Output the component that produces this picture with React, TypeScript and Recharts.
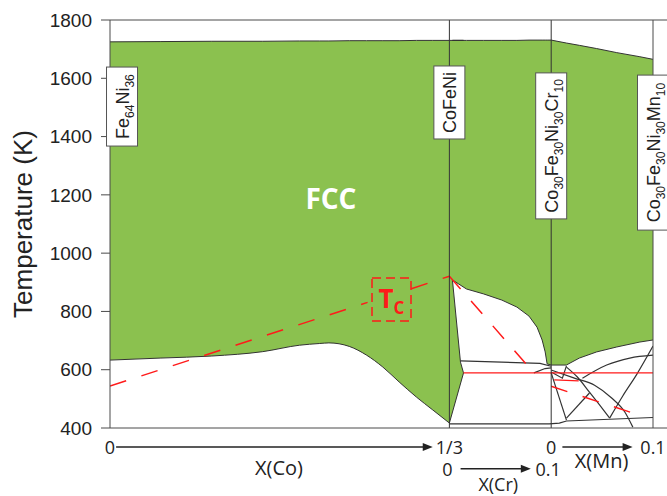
import React from 'react';
import { ComposedChart, Area, Line, XAxis, YAxis, ReferenceLine, ReferenceDot } from 'recharts';

type Pt = [number, number];
type Band = [number, number, number];

// the three composition sections share one x axis
const CO_END = 1 / 3;
const CR_END = 1 / 3 + 0.1;
const MN_END = 1 / 3 + 0.2;

const tempTicks = [400, 600, 800, 1000, 1200, 1400, 1600, 1800];
const compTicks = [0, 0.1, 0.2, 0.3, CO_END, CR_END, MN_END];

// FCC field: [x, lower boundary (K), solidus (K)]
const coFcc: Band[] = [
  [0, 633, 1725], [0.05, 640, 1726], [0.1, 647, 1727], [0.15, 662, 1727],
  [0.186, 684, 1728], [0.206, 690, 1728], [0.215, 692, 1728], [0.235, 680, 1729],
  [0.252, 650, 1729], [0.268, 609, 1729], [0.284, 558, 1729], [0.301, 506, 1730],
  [0.317, 462, 1730], [1 / 3, 417, 1730],
];
const crFcc: Band[] = [
  [0, 417, 1730], [0.0139, 589, 1730], [0.0109, 626, 1730], [0.003, 908, 1730],
  [0.0168, 877, 1730], [0.0337, 860, 1730], [0.0515, 839, 1730], [0.0663, 815, 1730],
  [0.0782, 784, 1731], [0.0861, 746, 1731], [0.0911, 702, 1731], [0.0941, 661, 1731],
  [0.096, 620, 1731], [0.1, 616, 1731],
];
const mnFcc: Band[] = [
  [0, 616, 1731], [0.0149, 616, 1721], [0.0277, 640, 1713], [0.0446, 661, 1702],
  [0.0644, 678, 1688], [0.0871, 695, 1674], [0.1, 702, 1665],
];

// other phase boundaries (black)
const crTie: Pt[] = [[0.0109, 630], [0.089, 622], [0.1, 612]];
const crJunction: Pt[] = [[0.083, 589], [0.094, 604], [0.1, 606]];
const crBottom: Pt[] = [[0, 414], [0.098, 414]];
const mnBottom: Pt[] = [[0.008, 417], [0.015, 424], [0.1, 436]];
const mnNotch: Pt[] = [[0, 592], [0.011, 571], [0.015, 613]];
const mnLegA: Pt[] = [[0, 589], [0.015, 427]];
const mnLegB: Pt[] = [[0.0376, 520], [0.015, 434]];
const mnArcA: Pt[] = [[0.015, 609], [0.0257, 575], [0.0376, 523], [0.0475, 479], [0.0574, 434]];
const mnArcB: Pt[] = [[0, 599], [0.0228, 571], [0.0426, 547], [0.0594, 503], [0.0723, 455], [0.0802, 403]];
const mnArcC: Pt[] = [[0.0307, 571], [0.0545, 616], [0.0772, 640], [0.1, 650]];
const mnArcD: Pt[] = [[0.0574, 434], [0.0703, 510], [0.0842, 585], [0.1, 681]];

// Curie temperature (red)
const coTcA: Pt[] = [[0, 544], [0.253, 831]];
const coTcB: Pt[] = [[0.296, 878], [1 / 3, 921]];
const crTc: Pt[] = [[0, 921], [0.083, 589]];
const mnTc: Pt[] = [[0, 543], [0.092, 438]];
const mnTcShort: Pt[] = [[0.003, 565], [0.027, 562]];
const crCurieFlat: Pt[] = [[0.0139, 589], [0.1, 589]];
const mnCurieFlat: Pt[] = [[0, 589], [0.1, 589]];

const alloyFeNi = [['Fe', '64'], ['Ni', '36']];
const alloyCoFeNi = [['CoFeNi', '']];
const alloyCr = [['Co', '30'], ['Fe', '30'], ['Ni', '30'], ['Cr', '10']];
const alloyMn = [['Co', '30'], ['Fe', '30'], ['Ni', '30'], ['Mn', '10']];

const axisNames = ['X(Co)', 'X(Cr)', 'X(Mn)'];
const axisEnds = [['0', '1/3'], ['0', '0.1'], ['0', '0.1']];

const rows = (pts: Pt[], start = 0) => pts.map(([x, t]) => ({ pos: start + x, t }));
const bandRows = (pts: Band[], start = 0) => pts.map(([x, lo, hi]) => ({ pos: start + x, band: [lo, hi] }));

const GREEN = '#8bc14f';
const AXIS = '#4a4a4a';
const INK = '#222';
const RED = '#ff1a1a';

const straightLines = [
  rows(crTie, CO_END),
  rows(crJunction, CO_END),
  [...rows(crBottom, CO_END), ...rows(mnBottom, CR_END)],
  rows(mnNotch, CR_END),
  rows(mnLegA, CR_END),
  rows(mnLegB, CR_END),
];
const curvedLines = [rows(mnArcA, CR_END), rows(mnArcB, CR_END), rows(mnArcC, CR_END), rows(mnArcD, CR_END)];
const dashedRed = [rows(coTcA), rows(coTcB), rows(crTc, CO_END), rows(mnTc, CR_END)];
const solidRed = [rows(mnTcShort, CR_END), [...rows(crCurieFlat, CO_END), ...rows(mnCurieFlat, CR_END)]];

const Arrow = (p: any) => (
  <g>
    <line x1={p.x1} y1={p.y1} x2={p.x2 - 6} y2={p.y2} stroke={INK} strokeWidth={1.5} />
    <polygon points={`${p.x2},${p.y2} ${p.x2 - 10},${p.y2 - 4} ${p.x2 - 10},${p.y2 + 4}`} fill={INK} />
  </g>
);

const Caption = (text: string, size = 20) => (p: any) => (
  <text x={p.cx} y={p.cy} textAnchor="middle" dominantBaseline="central" fontSize={size}
    fontFamily="'Open Sans', sans-serif" fill={INK}>{text}</text>
);

const AlloyBox = (parts: string[][], h: number) => (p: any) => (
  <g>
    <rect x={p.cx - 15.5} y={p.cy - h / 2} width={31} height={h} fill="#fff" stroke="#555" strokeWidth={1} />
    <text transform={`translate(${p.cx},${p.cy}) rotate(-90)`} x={0} y={6.5} textAnchor="middle"
      fontSize={18} fontFamily="'Liberation Sans', Arial, sans-serif" fill={INK}>
      {parts.map(([el, n], i) => (
        <React.Fragment key={i}>
          <tspan dy={i > 0 && parts[i - 1][1] ? -5 : 0}>{el}</tspan>
          {n ? <tspan fontSize={12} dy={5}>{n}</tspan> : null}
        </React.Fragment>
      ))}
    </text>
  </g>
);

const TcBox = (p: any) => (
  <g>
    <rect x={p.cx - 19.5} y={p.cy - 21.5} width={39} height={43} fill="none" stroke={RED}
      strokeWidth={1.5} strokeDasharray="9 5" />
    <text x={p.cx} y={p.cy + 8.5} textAnchor="middle" fill={RED} fontFamily="'Open Sans', sans-serif" fontWeight={700}>
      <tspan fontSize={26}>T</tspan>
      <tspan fontSize={17} dy={6}>C</tspan>
    </text>
  </g>
);

const FccLabel = (p: any) => (
  <text x={p.cx} y={p.cy + 10} textAnchor="middle" fill="#fff" fontSize={28} fontWeight={700}
    fontFamily="'Open Sans', sans-serif">FCC</text>
);

const YTitle = (props: any) => {
  const vb = props.viewBox || { x: 0, y: 20, width: 110, height: 408 };
  const cx = vb.x + 23;
  const cy = vb.y + vb.height / 2;
  return (
    <text x={cx} y={cy} transform={`rotate(-90, ${cx}, ${cy})`} textAnchor="middle" dominantBaseline="central"
      fontSize={26} fontFamily="'Liberation Sans', Arial, sans-serif" fill={INK}>Temperature (K)</text>
  );
};

export default function App() {
  return (
    <div style={{ position: 'absolute', left: 0, top: 0, background: '#fff' }}>
      <ComposedChart width={667} height={496} margin={{ top: 0, right: 0, bottom: 38, left: 0 }}>
        <XAxis dataKey="pos" type="number" domain={[0, MN_END]} ticks={compTicks} allowDataOverflow
          height={30} tick={false} tickSize={8} stroke={AXIS} />
        <XAxis xAxisId="top" orientation="top" dataKey="pos" type="number" domain={[0, MN_END]} ticks={compTicks}
          allowDataOverflow height={20} tick={false} tickSize={8} stroke={AXIS} />
        <YAxis type="number" domain={[400, 1800]} ticks={tempTicks} allowDataOverflow width={110}
          tickSize={9} tickMargin={9} stroke={AXIS}
          tick={{ fontSize: 19, fill: INK, fontFamily: "'Liberation Sans', Arial, sans-serif" }}
          label={<YTitle />} />
        <YAxis yAxisId="right" orientation="right" type="number" domain={[400, 1800]} ticks={tempTicks}
          allowDataOverflow width={14} tick={false} tickSize={8} stroke={AXIS} />

        <Area data={bandRows(coFcc)} dataKey="band" type="monotone" fill={GREEN} fillOpacity={1}
          stroke="#333" strokeWidth={1} dot={false} activeDot={false} isAnimationActive={false} />
        <Area data={[...bandRows(crFcc, CO_END), ...bandRows(mnFcc, CR_END)]} dataKey="band" type="linear"
          fill={GREEN} fillOpacity={1} stroke="#333" strokeWidth={1} dot={false} activeDot={false}
          isAnimationActive={false} />

        {straightLines.map((d, i) => (
          <Line key={`s${i}`} data={d} dataKey="t" type="linear" stroke="#333" strokeWidth={1.2}
            dot={false} activeDot={false} isAnimationActive={false} />
        ))}
        {curvedLines.map((d, i) => (
          <Line key={`c${i}`} data={d} dataKey="t" type="monotone" stroke="#333" strokeWidth={1.2}
            dot={false} activeDot={false} isAnimationActive={false} />
        ))}
        {solidRed.map((d, i) => (
          <Line key={`r${i}`} data={d} dataKey="t" type="linear" stroke={RED} strokeWidth={1.2}
            dot={false} activeDot={false} isAnimationActive={false} />
        ))}
        {dashedRed.map((d, i) => (
          <Line key={`d${i}`} data={d} dataKey="t" type="linear" stroke={RED} strokeWidth={1.5}
            strokeDasharray="17 16" dot={false} activeDot={false} isAnimationActive={false} />
        ))}

        <ReferenceLine x={CO_END} stroke="#333" strokeWidth={1} />
        <ReferenceLine x={CR_END} stroke="#333" strokeWidth={1} />
        <ReferenceLine segment={[{ x: MN_END, y: 1800 }, { x: 0.548, y: 1800 }]} stroke={AXIS} ifOverflow="visible" />
        <ReferenceLine segment={[{ x: MN_END, y: 400 }, { x: 0.548, y: 400 }]} stroke={AXIS} ifOverflow="visible" />

        <ReferenceDot x={0.217} y={1187} ifOverflow="visible" shape={FccLabel} />
        <ReferenceDot x={0.2765} y={841} ifOverflow="visible" shape={TcBox} />
        <ReferenceDot x={0.0118} y={1503} ifOverflow="visible" shape={AlloyBox(alloyFeNi, 79)} />
        <ReferenceDot x={CO_END} y={1517} ifOverflow="visible" shape={AlloyBox(alloyCoFeNi, 73)} />
        <ReferenceDot x={CR_END} y={1368} ifOverflow="visible" shape={AlloyBox(alloyCr, 146)} />
        <ReferenceDot x={MN_END} y={1345} ifOverflow="visible" shape={AlloyBox(alloyMn, 155)} />

        <ReferenceLine segment={[{ x: 0.006, y: 335 }, { x: 0.317, y: 335 }]} ifOverflow="visible" shape={Arrow} />
        <ReferenceLine segment={[{ x: CO_END + 0.011, y: 260 }, { x: CO_END + 0.08, y: 260 }]} ifOverflow="visible" shape={Arrow} />
        <ReferenceLine segment={[{ x: CR_END + 0.011, y: 335 }, { x: CR_END + 0.08, y: 335 }]} ifOverflow="visible" shape={Arrow} />

        <ReferenceDot x={0} y={335} ifOverflow="visible" shape={Caption(axisEnds[0][0], 18)} />
        <ReferenceDot x={CO_END} y={335} ifOverflow="visible" shape={Caption(axisEnds[0][1], 18)} />
        <ReferenceDot x={0.166} y={266} ifOverflow="visible" shape={Caption(axisNames[0])} />
        <ReferenceDot x={CO_END - 0.002} y={260} ifOverflow="visible" shape={Caption(axisEnds[1][0], 18)} />
        <ReferenceDot x={CO_END + 0.097} y={260} ifOverflow="visible" shape={Caption(axisEnds[1][1], 18)} />
        <ReferenceDot x={CO_END + 0.048} y={208} ifOverflow="visible" shape={Caption(axisNames[1], 18)} />
        <ReferenceDot x={CR_END} y={335} ifOverflow="visible" shape={Caption(axisEnds[2][0], 18)} />
        <ReferenceDot x={MN_END} y={335} ifOverflow="visible" shape={Caption(axisEnds[2][1], 18)} />
        <ReferenceDot x={CR_END + 0.0495} y={290} ifOverflow="visible" shape={Caption(axisNames[2])} />
      </ComposedChart>
    </div>
  );
}
